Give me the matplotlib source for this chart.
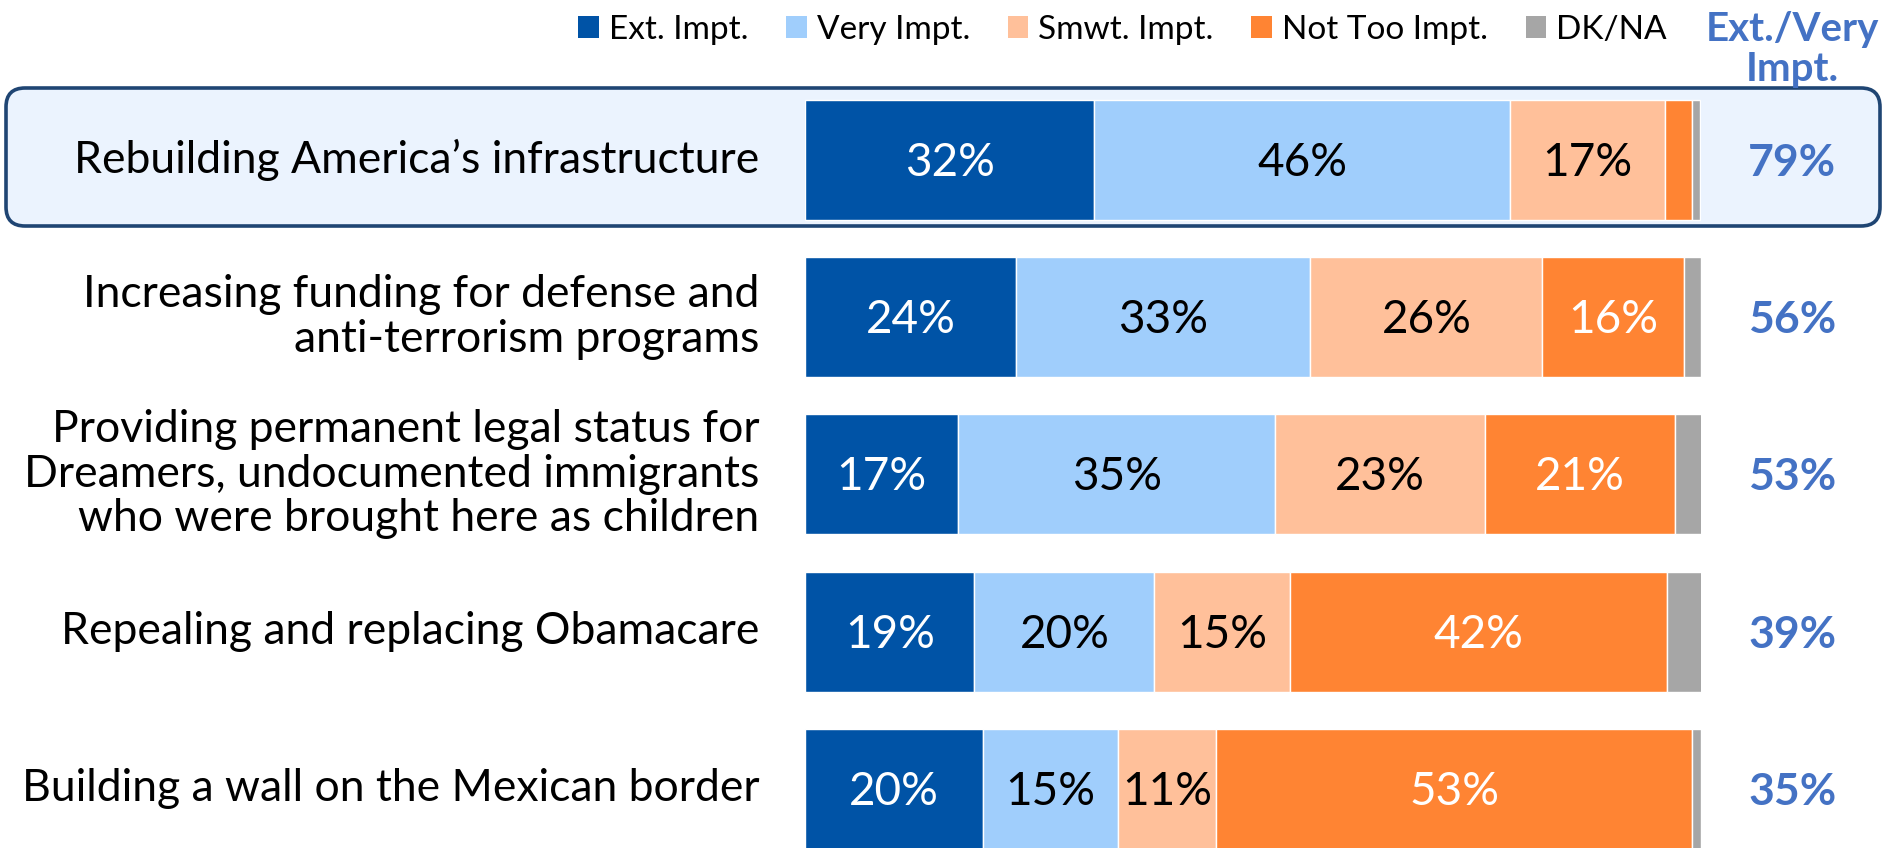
import numpy as np
import matplotlib.pyplot as plt
from matplotlib.patches import FancyBboxPatch, Patch

plt.rcParams['font.family'] = ['Lato', 'DejaVu Sans']

# data (percent of respondents)
categories = [
    "Rebuilding America\u2019s infrastructure",
    "Increasing funding for defense and\nanti-terrorism programs",
    "Providing permanent legal status for\nDreamers, undocumented immigrants\nwho were brought here as children",
    "Repealing and replacing Obamacare",
    "Building a wall on the Mexican border",
]
series_names = ["Ext. Impt.", "Very Impt.", "Smwt. Impt.", "Not Too Impt.", "DK/NA"]
ext_impt = [32.3, 23.6, 17.1, 18.9, 19.9]
very_impt = [46.4, 32.8, 35.4, 20.1, 15.0]
smwt_impt = [17.3, 25.9, 23.4, 15.1, 11.0]
not_too_impt = [3.0, 15.8, 21.2, 42.1, 53.1]
dk_na = [0.9, 1.9, 3.0, 3.9, 1.0]
ext_very_net = [79, 56, 53, 39, 35]

colors = ["#0053A6", "#A0CEFC", "#FFC09A", "#FF8433", "#A6A6A6"]
text_colors = ["white", "black", "black", "white", None]
net_color = "#4472C4"

W, H = 1883, 848
fig = plt.figure(figsize=(W / 100, H / 100), dpi=100)

# highlight box round the first row (in inches)
box = FancyBboxPatch((6 / 100, (H - 226) / 100), 1874 / 100, 138 / 100,
                     boxstyle="round,pad=0,rounding_size=0.19",
                     transform=fig.dpi_scale_trans, facecolor="#EBF3FE",
                     edgecolor="#1F4573", linewidth=2.6, zorder=0.5)
fig.patches.append(box)

ax = fig.add_axes([805 / W, 0, 896 / W, 1], zorder=1)
ax.patch.set_alpha(0)
ax.set_xlim(0, 100)
ax.set_ylim(4.376, -1.015)
ax.axis('off')

rows = np.arange(len(categories))
data = [ext_impt, very_impt, smwt_impt, not_too_impt, dk_na]
left = np.zeros(len(categories))
for vals, col, tcol, name in zip(data, colors, text_colors, series_names):
    vals = np.array(vals)
    ax.barh(rows, vals, left=left, height=0.763, color=col,
            edgecolor="white", linewidth=1.0, label=name)
    if tcol is not None:
        for r, v, l in zip(rows, vals, left):
            if v >= 5:
                ax.text(l + v / 2, r + 0.02, f"{v:.0f}%", ha='center', va='center',
                        color=tcol, fontsize=33)
    left += vals

# row labels
for r, cat in zip(rows, categories):
    ax.text(-5.1, r, cat, ha='right', va='center', fontsize=32,
            linespacing=1.1, clip_on=False)

# Ext./Very column
ax.text(110.2, -0.70, "Ext./Very\nImpt.", ha='center', va='center',
        fontsize=29, fontweight='bold', color=net_color, linespacing=1.12,
        clip_on=False)
for r, n in zip(rows, ext_very_net):
    ax.text(110.2, r + 0.02, f"{n}%", ha='center', va='center', fontsize=32,
            fontweight='bold', color=net_color, clip_on=False)

handles = [Patch(facecolor=c, edgecolor='none') for c in colors]
fig.legend(handles, series_names, loc='center right',
           bbox_to_anchor=(1667 / W, 1 - 30 / H), ncol=5, frameon=False,
           fontsize=24, handlelength=0.62, handleheight=0.62,
           handletextpad=0.3, columnspacing=1.13, borderpad=0,
           borderaxespad=0)

fig.savefig("out.png", dpi=100)
